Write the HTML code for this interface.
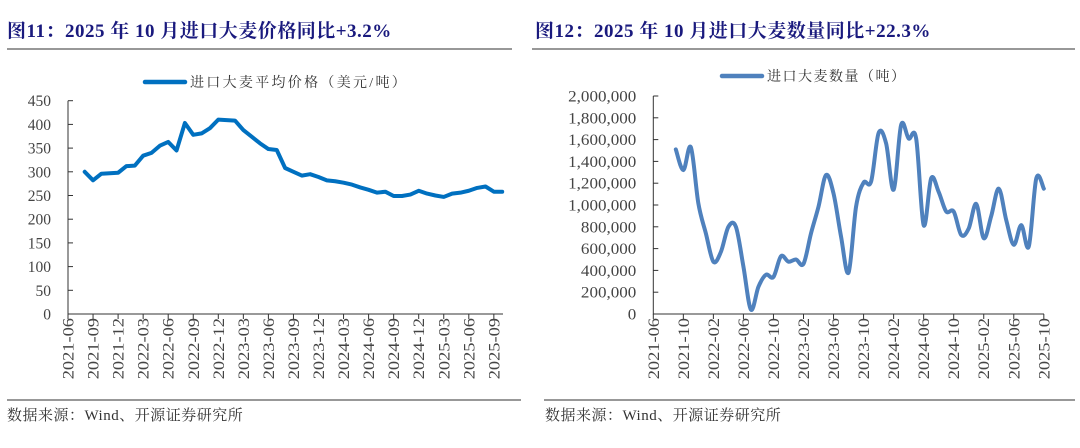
<!DOCTYPE html>
<html><head><meta charset="utf-8"><style>
body{margin:0;background:#fff;}
svg{display:block;font-family:"Liberation Serif","Noto Serif CJK SC",serif;}
</style></head><body>
<svg id="s" width="1080" height="448">
<text x="7" y="37" font-size="19" font-weight="bold" fill="#1a1a7e" letter-spacing="0.5">图11：2025 年 10 月进口大麦价格同比+3.2%</text>
<text x="535" y="37" font-size="19" font-weight="bold" fill="#1a1a7e" letter-spacing="0.5">图12：2025 年 10 月进口大麦数量同比+22.3%</text>
<line x1="7" y1="49" x2="512" y2="49" stroke="#777" stroke-width="1.5"/>
<line x1="532" y1="49" x2="1075" y2="49" stroke="#777" stroke-width="1.5"/>
<line x1="7" y1="400" x2="521" y2="400" stroke="#777" stroke-width="1.5"/>
<line x1="544" y1="400" x2="1075" y2="400" stroke="#777" stroke-width="1.5"/>
<text x="7" y="420" font-size="15" fill="#333" letter-spacing="0.5">数据来源：Wind、开源证券研究所</text>
<text x="545" y="420" font-size="15" fill="#333" letter-spacing="0.5">数据来源：Wind、开源证券研究所</text>
<line x1="145" y1="82" x2="185" y2="82" stroke="#0070c0" stroke-width="4.5" stroke-linecap="round"/>
<text x="190" y="87" font-size="14" fill="#333" letter-spacing="2.3">进口大麦平均价格（美元/吨）</text>
<line x1="722" y1="76" x2="762" y2="76" stroke="#4f81bd" stroke-width="4.5" stroke-linecap="round"/>
<text x="767" y="81" font-size="14" fill="#333" letter-spacing="1.5">进口大麦数量（吨）</text>
<g id="L"></g><g id="R"></g>
</svg>
<script>
const leftYTicks=[0,50,100,150,200,250,300,350,400,450];
const leftXLabels=["2021-06","2021-09","2021-12","2022-03","2022-06","2022-09","2022-12","2023-03","2023-06","2023-09","2023-12","2024-03","2024-06","2024-09","2024-12","2025-03","2025-06","2025-09"];
const leftStartMonth=2;
const leftPrices=[300,282,296,297,298,312,313,334,340,355,363,345,403,378,381,392,410,409,408,388,374,360,348,346,308,300,292,295,289,282,280,277,273,267,262,256,258,249,249,252,260,254,250,247,254,256,260,266,269,258,258];
const rightYTicks=[0,200000,400000,600000,800000,1000000,1200000,1400000,1600000,1800000,2000000];
const rightXLabels=["2021-06","2021-10","2022-02","2022-06","2022-10","2023-02","2023-06","2023-10","2024-02","2024-06","2024-10","2025-02","2025-06","2025-10"];
const rightStartMonth=3;
const rightVolumes=[1510000,1320000,1530000,1015000,740000,480000,570000,800000,800000,435000,40000,250000,360000,340000,530000,480000,500000,460000,740000,985000,1275000,1105000,710000,380000,985000,1205000,1215000,1660000,1565000,1140000,1735000,1610000,1610000,815000,1245000,1120000,940000,940000,725000,785000,1010000,695000,900000,1150000,860000,635000,815000,620000,1245000,1150000];
const NS="http://www.w3.org/2000/svg";
function mk(p,t,a){const e=document.createElementNS(NS,t);for(const k in a)e.setAttribute(k,a[k]);p.appendChild(e);return e;}
function chart(g,o){
  const x=m=>o.x0+m*o.mw, y=v=>o.y0-(v/o.max)*(o.y0-o.y1);
  const ax=mk(g,'path',{d:`M${o.x0},${o.y1}V${o.y0}H${o.xe}`,stroke:'#333',fill:'none','stroke-width':1});
  
  
  o.yt.forEach(v=>{
    const t=mk(g,'line',{x1:o.x0,x2:o.x0+5,y1:y(v),y2:y(v),stroke:'#333'});
    
    
    const l=mk(g,'text',{x:0,y:0,'font-size':15.5,fill:'#444','text-anchor':'end',transform:`translate(${o.x0-17},${y(v)+5.5}) scale(${o.sx},1)`});
    l.textContent=v.toLocaleString('en-US');
    
    
  });
  o.xl.forEach((s,i)=>{
    const m=i*o.step, xx=x(m);
    const t=mk(g,'line',{x1:xx,x2:xx,y1:o.y0,y2:o.y0+5,stroke:'#333'});
    
    
    const l=mk(g,'text',{x:0,y:0,'font-size':16,fill:'#444','text-anchor':'end',transform:`translate(${xx+5.5},${o.y0+4}) rotate(-90) scale(1.15,1)`});
    l.textContent=s;
    
    
  });
  const pts=o.d.map((v,i)=>[x(o.s+i),y(v)]);
  let d='M'+pts[0].join(',');
  for(let i=1;i<pts.length;i++){
    if(o.smooth){
      const p0=pts[Math.max(i-2,0)],p1=pts[i-1],p2=pts[i],p3=pts[Math.min(i+1,pts.length-1)];
      d+=`C${p1[0]+(p2[0]-p0[0])/6},${p1[1]+(p2[1]-p0[1])/6} ${p2[0]-(p3[0]-p1[0])/6},${p2[1]-(p3[1]-p1[1])/6} ${p2[0]},${p2[1]}`;
    } else d+='L'+pts[i].join(',');
  }
  const ln=mk(g,'path',{d,fill:'none',stroke:o.c,'stroke-width':4,'stroke-linejoin':'round','stroke-linecap':'round'});
  
  
}
chart(document.getElementById('L'),{n:'left',x0:68,xe:503,y0:314,y1:100.7,max:450,mw:8.35,step:3,s:leftStartMonth,d:leftPrices,yt:leftYTicks,xl:leftXLabels,c:'#0070c0',smooth:false,sx:1.0});
chart(document.getElementById('R'),{n:'right',x0:653.3,xe:1044,y0:314,y1:96,max:2000000,mw:7.51,step:4,s:rightStartMonth,d:rightVolumes,yt:rightYTicks,xl:rightXLabels,c:'#4f81bd',smooth:true,sx:1.1});
</script>
</body></html>
